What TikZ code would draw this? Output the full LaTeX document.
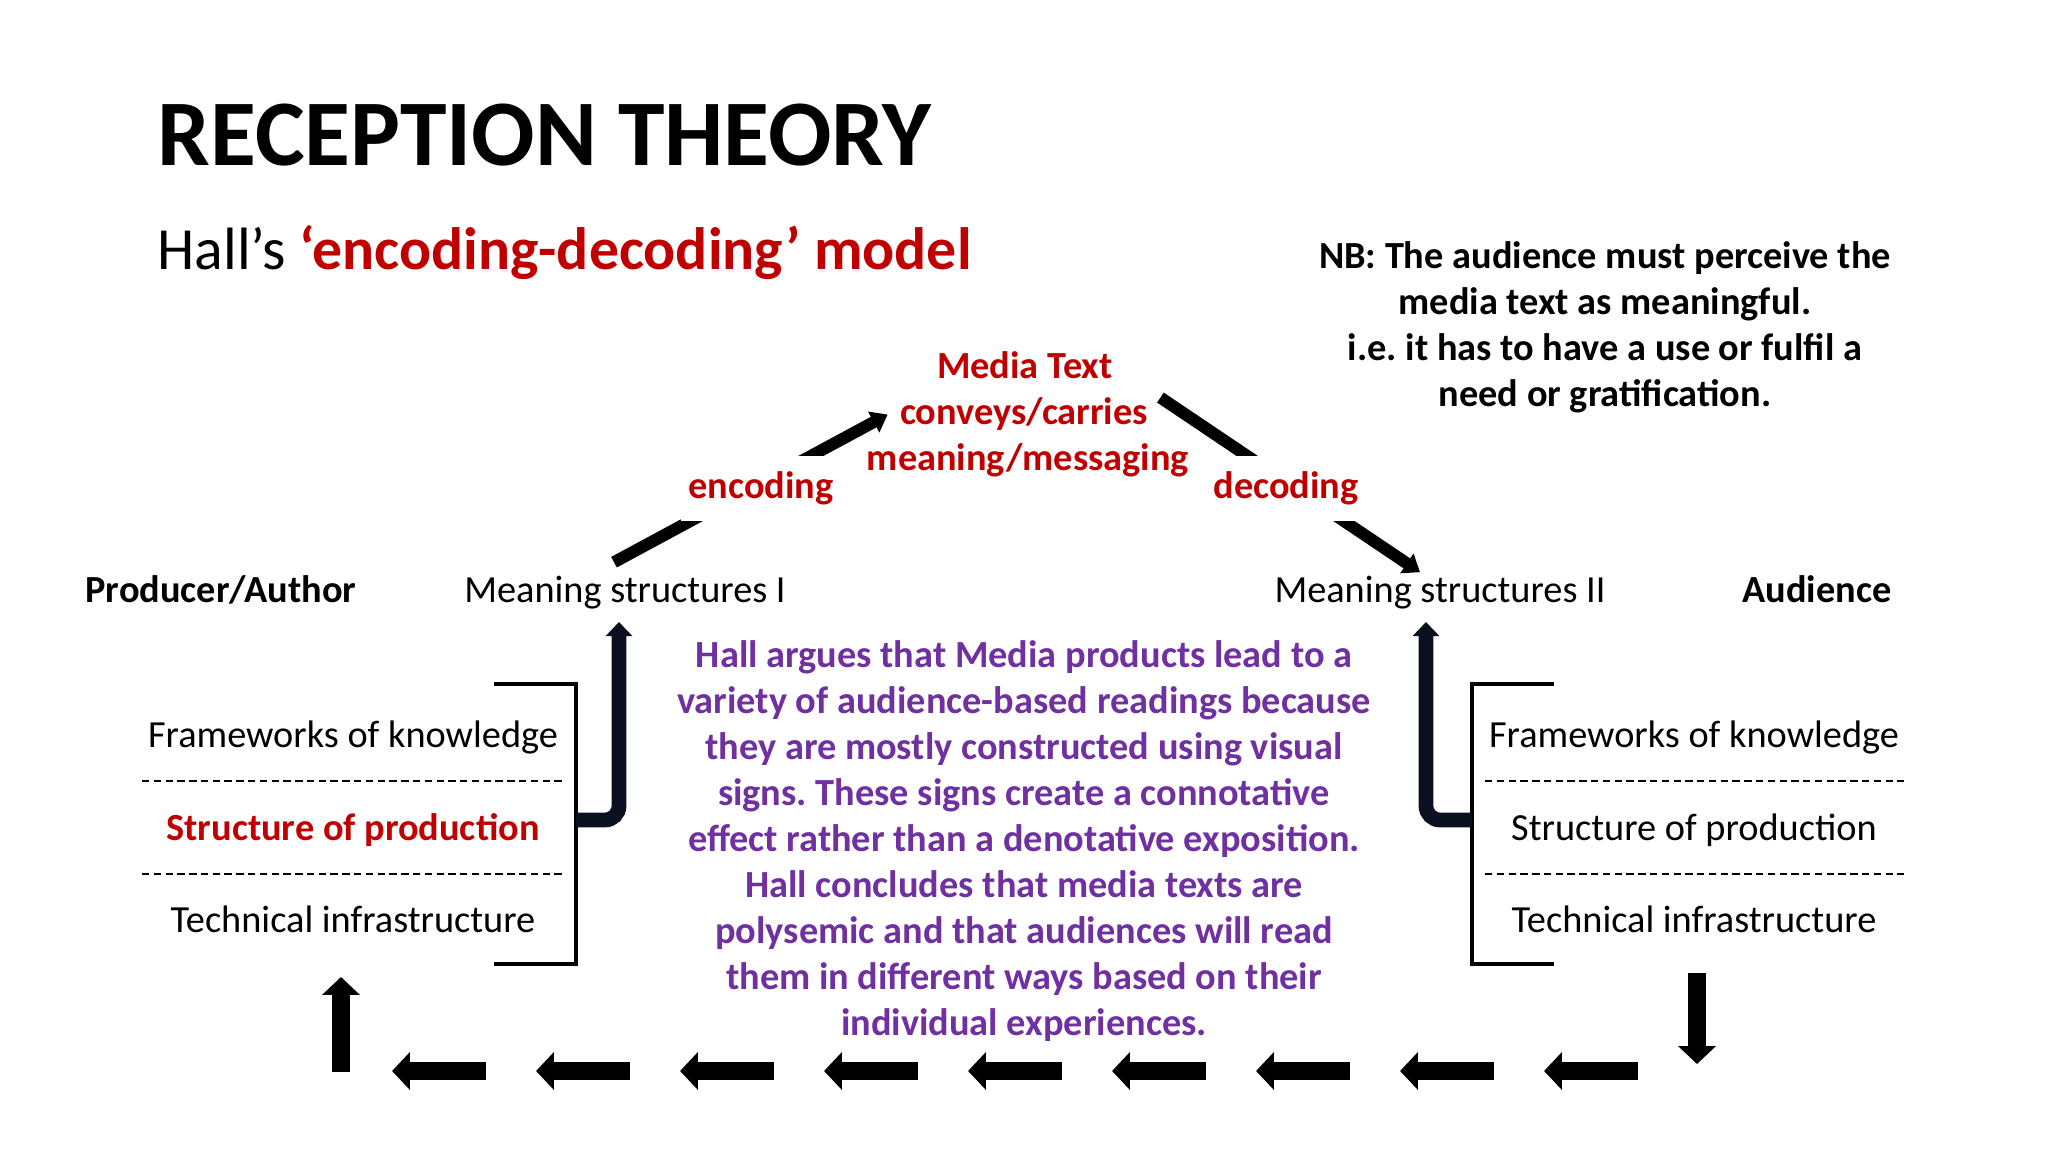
\documentclass[tikz,border=0pt]{standalone}
\usepackage{fontspec}
\setmainfont{Carlito}
\usetikzlibrary{arrows.meta,positioning,calc}
\definecolor{darkred}{HTML}{C00000}
\definecolor{hallpurple}{HTML}{7030A0}
\definecolor{navy}{HTML}{0B1020}
\newcommand{\bodysize}{\fontsize{10.9}{13.1}\selectfont}
\frenchspacing

\begin{document}
\begin{tikzpicture}[x=0.01cm, y=-0.01cm,
    red word/.style={text=darkred, font=\bodysize\bfseries},
    word box/.style={fill=white, inner xsep=2pt, inner ysep=4.5pt},
    thick arrow/.style={line width=3.4pt, -{Triangle[width=6.5pt,length=4.5pt]}},
    bend arrow/.style={draw=navy, line width=4.2pt, rounded corners=4pt, -{Triangle[width=7.4pt,length=4pt]}},
    block arrow/.style={line width=5.1pt, -{Triangle[width=10.5pt,length=5.1pt]}},
    bracket/.style={line width=1.1pt},
    dash line/.style={dash pattern=on 2.1pt off 1.25pt, line width=0.75pt}]
        \tikzstyle{every node}=[font=\bodysize]
        \fill[white] (0,0) rectangle (2048,1152);
        \useasboundingbox (0,0) rectangle (2048,1152);

          \node[anchor=base west, inner sep=0pt, font=\fontsize{26.7}{32}\selectfont\bfseries] (title) at (157,166) {RECEPTION THEORY};
          \node[anchor=base west, inner sep=0pt, font=\fontsize{17}{20}\selectfont] (subtitle) at (157,270) {Hall’s \textcolor{darkred}{\bfseries ‘encoding-decoding’ model}};
          \node[font=\bodysize\bfseries, align=center, inner sep=0pt] (nb) at (1605,327) {NB: The audience must perceive the\\ media text as meaningful.\\ i.e. it has to have a use or fulfil a\\ need or gratification.};

          \node[red word, anchor=base] (mt1) at (1025,379) {Media Text};
          \node[red word, anchor=base] (mt2) at (1024,425) {conveys/carries};
          \node[red word, anchor=base] (mt3) at (1028,471) {meaning/messaging};

          \node[font=\bodysize\bfseries, anchor=base] (producer) at (221,603) {Producer/Author};
          \node[anchor=base] (ms1) at (625,603) {Meaning structures I};
          \node[anchor=base] (ms2) at (1440,603) {Meaning structures II};
          \node[font=\bodysize\bfseries, anchor=base] (audience) at (1817,603) {Audience};

          % encoding / decoding
          \draw[thick arrow] ($(ms1.north)+(-11,-2)$) -- (mt2.west);
          \draw[thick arrow] ($(mt2.east)+(0,-17)$) -- ($(ms2.north)+(-20,8)$);
          \node[red word, word box, anchor=base] (enc) at (761,499) {encoding};
          \node[red word, word box, anchor=base] (dec) at (1286,499) {decoding};

          % producer side
          \node[anchor=base] (fk1) at (353,747) {Frameworks of knowledge};
          \node[red word, anchor=base] (sp1) at (353,840) {Structure of production};
          \node[anchor=base] (ti1) at (353,932) {Technical infrastructure};
          \draw[dash line] (142,781) -- (564,781);
          \draw[dash line] (142,874) -- (564,874);
          \draw[bracket] (494,684) -| (576,964) -- (494,964);
          \coordinate (lbend) at (576,820);
          \draw[bend arrow] (lbend) -| ($(ms1.south)+(-6,0)$);

          % audience side
          \node[anchor=base] (fk2) at (1694,747) {Frameworks of knowledge};
          \node[anchor=base] (sp2) at (1694,840) {Structure of production};
          \node[anchor=base] (ti2) at (1694,932) {Technical infrastructure};
          \draw[dash line] (1485,781) -- (1904,781);
          \draw[dash line] (1485,874) -- (1904,874);
          \draw[bracket] (1554,684) -| (1472,964) -- (1554,964);
          \coordinate (rbend) at (1472,820);
          \draw[bend arrow] (rbend) -| ($(ms2.south)+(-14,0)$);

          \node[font=\bodysize\bfseries, text=hallpurple, align=center, inner sep=0pt] (hall) at (1024,841) {Hall argues that Media products lead to a\\ variety of audience-based readings because\\ they are mostly constructed using visual\\ signs. These signs create a connotative\\ effect rather than a denotative exposition.\\ Hall concludes that media texts are\\ polysemic and that audiences will read\\ them in different ways based on their\\ individual experiences.};

          % feedback loop
          \draw[block arrow] (1697,973) -- (1697,1064);
          \foreach \i in {0,...,8}
            \draw[block arrow] ({486+144*\i},1071) -- ({392+144*\i},1071);
          \draw[block arrow] (341,1072) -- (341,977);

        \end{tikzpicture}
\end{document}
